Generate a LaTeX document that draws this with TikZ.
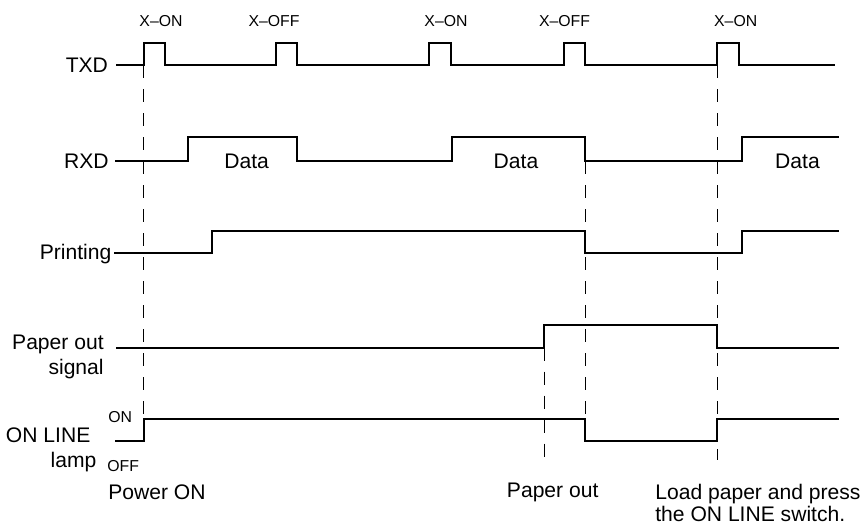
\documentclass[tikz,border=0pt]{standalone}
\usepackage{fontspec}
\setmainfont{Liberation Sans}
\tikzset{
  wave/.style={line width=0.4mm, line join=miter},
  guide/.style={line width=0.2mm, dash pattern=on 2.6mm off 2.2mm},
  lbl/.style={inner sep=0pt, font=\fontsize{12}{14}\selectfont},
  tag/.style={inner sep=0pt, font=\fontsize{9}{11}\selectfont},
}
\begin{document}
\begin{tikzpicture}[x=0.2mm,y=-0.2mm]
\useasboundingbox (0,0) rectangle (865,524);
% signal names
\node[lbl,anchor=base east] (txd) at (108.3,72.7) {TXD};
\node[lbl,anchor=base east] (rxd) at (109,168.3) {RXD};
\node[lbl,anchor=base east] (prn) at (111.7,259) {Printing};
\node[lbl,anchor=base east] (pos1) at (104,349) {Paper out};
\node[lbl,anchor=base east] (pos2) at (104,374) {signal};
\node[lbl,anchor=base east] (lamp1) at (90.7,442) {ON LINE};
\node[lbl,anchor=base east] (lamp2) at (96.7,467.5) {lamp};
\node[tag,anchor=base west] (on) at (108,422.3) {ON};
\node[tag,anchor=base west] (off) at (107,471.7) {OFF};
% TXD
\draw[wave] (116,65) -| (143.5,42.5) -| (165,65) -| (276,42.5) -| (297,65)
  -| (429,42.5) -| (451,65) -| (563.5,42.5) -| (585,65)
  -| (717.3,42.5) -| (739.3,65) -- (835,65);
\node[tag,anchor=base] (xon1) at (161,26.7) {X--ON};
\node[tag,anchor=base] (xoff1) at (274,26.7) {X--OFF};
\node[tag,anchor=base] (xon2) at (446,26.7) {X--ON};
\node[tag,anchor=base] (xoff2) at (564.5,26.7) {X--OFF};
\node[tag,anchor=base] (xon3) at (735.7,26.7) {X--ON};
% RXD
\draw[wave] (115,161) -| (187.7,137.3) -| (297.3,161) -| (451.7,137.3)
  -| (585,161) -| (741.7,137.3) -- (839,137.3);
\node[lbl,anchor=base] (data1) at (246.7,168.3) {Data};
\node[lbl,anchor=base] (data2) at (516,168.3) {Data};
\node[lbl,anchor=base] (data3) at (797.5,168.3) {Data};
% Printing
\draw[wave] (114,253) -| (212.3,231) -| (585,253) -| (741.7,231) -- (839,231);
% Paper out signal
\draw[wave] (116,347.7) -| (544.3,325) -| (717.3,347.7) -- (839,347.7);
% ON LINE lamp
\draw[wave] (115,441) -| (143.5,418.7) -| (585,441) -| (717.3,418.7) -- (839,418.7);
% events
\draw[guide] (143.5,65) -- (143.5,418.7);
\draw[guide] (585,161) -- (585,418.7);
\draw[guide] (717.3,65) -- (717.3,460);
\draw[guide] (544.3,347.7) -- (544.3,457);
\node[lbl,anchor=base west] (pwr) at (108,499) {Power ON};
\node[lbl,anchor=base] (pout) at (552.7,497.5) {Paper out};
\node[lbl,anchor=base west] (load1) at (655,499) {Load paper and press};
\node[lbl,anchor=base west] (load2) at (655,521) {the ON LINE switch.};
\end{tikzpicture}
\end{document}
